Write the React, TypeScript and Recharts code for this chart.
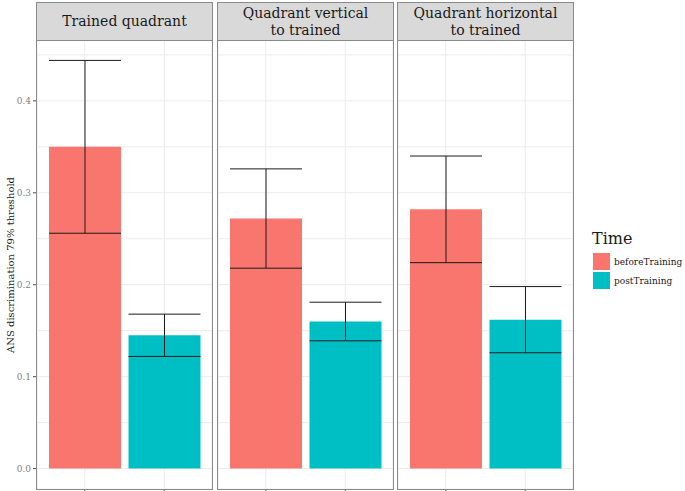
import React from "react";
import { Bar, BarChart, CartesianGrid, Cell, ErrorBar, XAxis, YAxis } from "recharts";

const panelTitles = ["Trained quadrant", "Quadrant vertical\nto trained", "Quadrant horizontal\nto trained"];
const timeLevels = ["beforeTraining", "postTraining"];
const beforeMean = [0.35, 0.272, 0.282];
const beforeErr = [0.094, 0.054, 0.058];
const postMean = [0.145, 0.16, 0.162];
const postErr = [0.023, 0.021, 0.036];
const yTicks = [0, 0.05, 0.1, 0.15, 0.2, 0.25, 0.3, 0.35, 0.4, 0.45];
const yLabel = "ANS discrimination 79% threshold";

const colors = ["#F8766D", "#00BFC4"];
const font = "'DejaVu Serif', serif";
const frameColor = "#8a8a8a";

const panelLeft = [37, 218, 398];
const panelWidth = 175;
const plotTop = 40;
const plotBottom = 489;
const yDomain = [-0.0222, 0.4662];

const YTick = (props: any) => {
    const { x, y, payload } = props;
    const v = payload.value;
    const major = Math.abs(v * 10 - Math.round(v * 10)) < 1e-6;
    if (!major) return <g />;
    return (
        <g>
            <line x1={x + 2} x2={x + 6} y1={y} y2={y} stroke="#4d4d4d" />
            <text x={x} y={y} dy={3} textAnchor="end" fontSize={9} fill="#7f7f7f" fontFamily={font}>
                {v.toFixed(1)}
            </text>
        </g>
    );
};

function Panel({ idx }: { idx: number }) {
    const data = timeLevels.map((t, i) => ({
        time: t,
        value: i === 0 ? beforeMean[idx] : postMean[idx],
        err: i === 0 ? beforeErr[idx] : postErr[idx],
    }));
    const first = idx === 0;
    const chartLeft = first ? 0 : panelLeft[idx];
    const chartWidth = first ? panelLeft[0] + panelWidth : panelWidth;
    const axisH = 6;
    return (
        <>
            <div style={{ position: "absolute", left: chartLeft, top: 0 }}>
                <BarChart
                    width={chartWidth}
                    height={plotBottom + axisH}
                    data={data}
                    margin={{ top: plotTop, right: 0, left: 0, bottom: 0 }}
                >
                    <CartesianGrid stroke="#ebebeb" strokeWidth={1} />
                    <XAxis
                        dataKey="time"
                        height={axisH}
                        tickFormatter={() => ""}
                        tickSize={3}
                        tickLine={{ stroke: "#4d4d4d" }}
                        padding={{ left: 8, right: 8 }}
                        axisLine={false}
                    />
                    <YAxis
                        type="number"
                        domain={yDomain}
                        allowDataOverflow
                        ticks={yTicks}
                        hide={!first}
                        width={first ? panelLeft[0] : 0}
                        tick={<YTick />}
                        tickLine={false}
                        tickSize={4}
                        tickMargin={2}
                        axisLine={false}
                    />
                    <Bar dataKey="value" barSize={72} isAnimationActive={false}>
                        {data.map((d, i) => (
                            <Cell key={d.time} fill={colors[i]} />
                        ))}
                        <ErrorBar dataKey="err" width={36} stroke="#1a1a1a" strokeWidth={1} />
                    </Bar>
                </BarChart>
            </div>
            <div
                style={{
                    position: "absolute",
                    left: panelLeft[idx] - 1,
                    top: plotTop - 1,
                    width: panelWidth + 2,
                    height: plotBottom - plotTop + 2,
                    border: `1.5px solid ${frameColor}`,
                    boxSizing: "border-box",
                    pointerEvents: "none",
                }}
            />
            <div
                style={{
                    position: "absolute",
                    left: panelLeft[idx] - 1,
                    top: 2,
                    width: panelWidth + 2,
                    height: plotTop - 1,
                    border: `1.5px solid ${frameColor}`,
                    boxSizing: "border-box",
                    background: "#d9d9d9",
                    display: "flex",
                    alignItems: "center",
                    justifyContent: "center",
                    textAlign: "center",
                    whiteSpace: "pre",
                    fontFamily: font,
                    fontSize: 14,
                    lineHeight: "17px",
                    color: "#1a1a1a",
                }}
            >
                {panelTitles[idx]}
            </div>
        </>
    );
}

export default function App() {
    return (
        <div style={{ position: "absolute", left: 0, top: 0, width: 685, height: 491, overflow: "hidden", background: "#fff" }}>
            {panelTitles.map((_, i) => (
                <Panel key={i} idx={i} />
            ))}
            <div
                style={{
                    position: "absolute",
                    left: 10,
                    top: (plotTop + plotBottom) / 2,
                    transform: "translate(-50%, -50%) rotate(-90deg)",
                    whiteSpace: "nowrap",
                    fontFamily: font,
                    fontSize: 10,
                    color: "#1a1a1a",
                }}
            >
                {yLabel}
            </div>
            <div style={{ position: "absolute", left: 592, top: 229, fontFamily: font, fontSize: 16, color: "#1a1a1a" }}>
                Time
            </div>
            {timeLevels.map((t, i) => (
                <div key={t} style={{ position: "absolute", left: 593, top: 253 + i * 19, display: "flex", alignItems: "center" }}>
                    <div style={{ width: 17, height: 17, background: colors[i] }} />
                    <span style={{ marginLeft: 4, fontFamily: font, fontSize: 9, color: "#1a1a1a" }}>{t}</span>
                </div>
            ))}
        </div>
    );
}
